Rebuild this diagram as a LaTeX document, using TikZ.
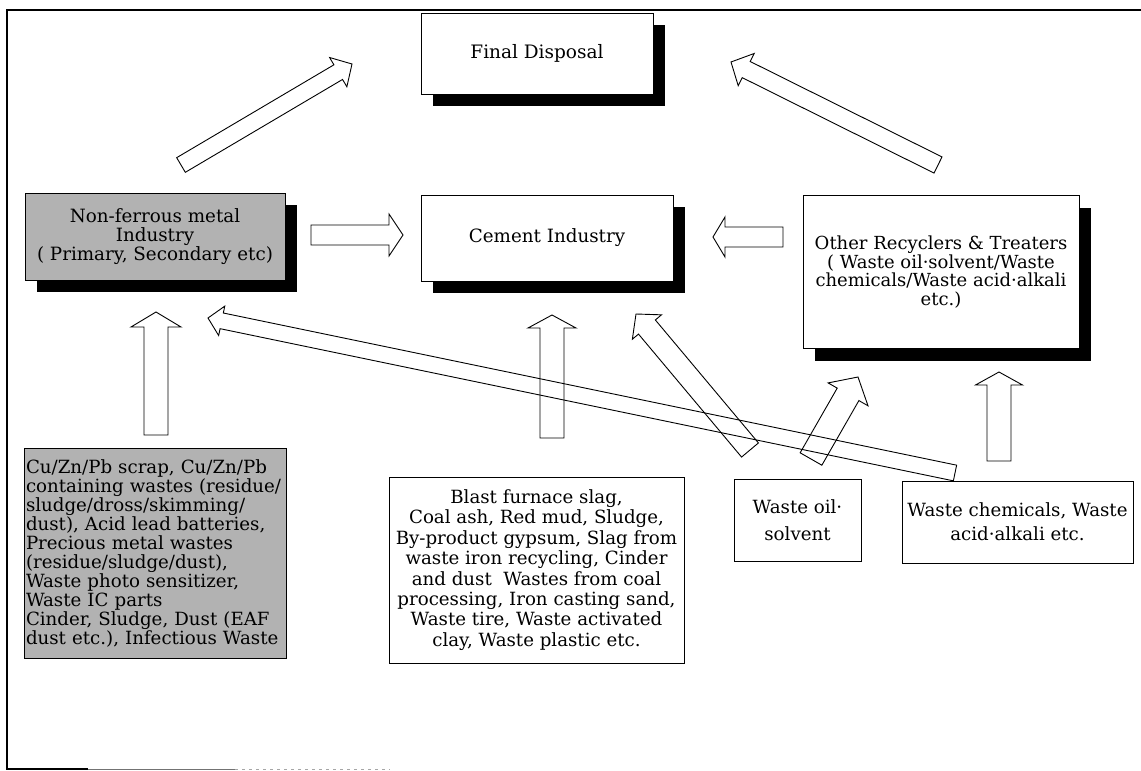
\documentclass[tikz,border=0pt]{standalone}
\usepackage{fontspec}
\setmainfont{DejaVu Serif}
\usetikzlibrary{calc,shadows}
\tikzset{
  box/.style={draw=black, line width=1pt, fill=white, inner sep=0pt, outer sep=0pt, align=center},
  shbox/.style={box, drop shadow={shadow xshift=12pt, shadow yshift=-12pt, fill=black, opacity=1}},
  graybox/.style={fill=black!30},
  arrowbox/.style={draw=black, line width=0.9pt, line join=miter},
  frame/.style={draw=black, line width=1.2pt}
}
% block arrow: from, to, shaft half width, head half width, head length (all in pt)
\newcommand\blockarr[5]{%
  \coordinate (bh) at ($(#2)!#5pt!(#1)$);
  \draw[arrowbox] ($(#1)!#3pt!90:(#2)$) -- ($(bh)!#3pt!-90:(#1)$) -- ($(bh)!#4pt!-90:(#1)$) -- (#2)
     -- ($(bh)!#4pt!90:(#1)$) -- ($(bh)!#3pt!90:(#1)$) -- ($(#1)!#3pt!-90:(#2)$) -- cycle;}
\begin{document}
\begin{tikzpicture}[x=1pt,y=-1pt]
\useasboundingbox (0,0) rectangle (1141,771);
% frame
\draw[frame] (1141,10) -- (7,10) -- (7,769) -- (88,769);
\draw[black!55, line width=1pt] (88,769) -- (235,769);
\draw[black!35, line width=0.8pt, dash pattern=on 3pt off 4pt] (235,769) -- (390,769);

% boxes
\node[shbox, minimum width=232pt, minimum height=81pt, font=\fontsize{18.5}{20}\selectfont] (fd) at (537,53.5) {Final Disposal};
\node[shbox, minimum width=252pt, minimum height=86pt, font=\fontsize{18.3}{20}\selectfont] (ci) at (547,238) {Cement Industry};
\node[shbox, graybox, minimum width=260pt, minimum height=87pt, font=\fontsize{18.3}{19}\selectfont] (nf) at (155,236.5) {Non-ferrous metal\\Industry\\( Primary, Secondary etc)};
\node[shbox, minimum width=276pt, minimum height=153pt, font=\fontsize{18}{18.5}\selectfont] (ot) at (941,272) {Other Recyclers \& Treaters\\( Waste oil·solvent/Waste\\chemicals/Waste acid·alkali\\etc.)};
\node[box, graybox, minimum width=262pt, minimum height=210pt, text width=258pt, align=left, font=\fontsize{18.2}{19}\selectfont] (cu) at (155,553) {Cu/Zn/Pb scrap, Cu/Zn/Pb\\containing wastes (residue/\\sludge/dross/skimming/\\dust), Acid lead batteries,\\Precious metal wastes\\(residue/sludge/dust),\\Waste photo sensitizer,\\Waste IC parts\\Cinder, Sludge, Dust (EAF\\dust etc.), Infectious Waste};
\node[box, minimum width=295pt, minimum height=186pt, font=\fontsize{18.2}{20.4}\selectfont] (bf) at (536.5,570) {Blast furnace slag,\\Coal ash, Red mud, Sludge,\\By-product gypsum, Slag from\\waste iron recycling, Cinder\\and dust\ \ Wastes from coal\\processing, Iron casting sand,\\Waste tire, Waste activated\\clay, Waste plastic etc.};
\node[box, minimum width=127pt, minimum height=82pt, font=\fontsize{18.2}{27}\selectfont] (wo) at (797.5,520) {Waste oil·\\solvent};
\node[box, minimum width=231pt, minimum height=82pt, font=\fontsize{18.2}{24}\selectfont] (wc) at (1017.5,522) {Waste chemicals, Waste\\acid·alkali etc.};

% arrow end points
\coordinate (a1s) at (181,165);  \coordinate (a1e) at (352,64);
\coordinate (a2s) at (938,165);  \coordinate (a2e) at (731,62);
\coordinate (a3s) at (311,235);  \coordinate (a3e) at (403,235);
\coordinate (a4s) at (783,237);  \coordinate (a4e) at (713,237);
\coordinate (a5s) at (156,435);  \coordinate (a5e) at (156,312);
\coordinate (a6s) at (552,438);  \coordinate (a6e) at (552,315);
\coordinate (a7s) at (750,450);  \coordinate (a7e) at (636,314);
\coordinate (a8s) at (955,473);  \coordinate (a8e) at (208,318);
\coordinate (a9s) at (811,459);  \coordinate (a9e) at (858,377);
\coordinate (a10s) at (999,461); \coordinate (a10e) at (999,372);

\blockarr{a1s}{a1e}{8.5}{17}{16}
\blockarr{a2s}{a2e}{9}{18}{17}
\blockarr{a3s}{a3e}{10}{21}{14}
\blockarr{a4s}{a4e}{10}{20}{12}
\blockarr{a5s}{a5e}{12}{25}{15}
\blockarr{a6s}{a6e}{12}{24}{13}
\blockarr{a7s}{a7e}{11}{19}{17}
\blockarr{a8s}{a8e}{8}{15}{14}
\blockarr{a9s}{a9e}{12.5}{23}{20}
\blockarr{a10s}{a10e}{12}{23.5}{13}
\end{tikzpicture}
\end{document}
